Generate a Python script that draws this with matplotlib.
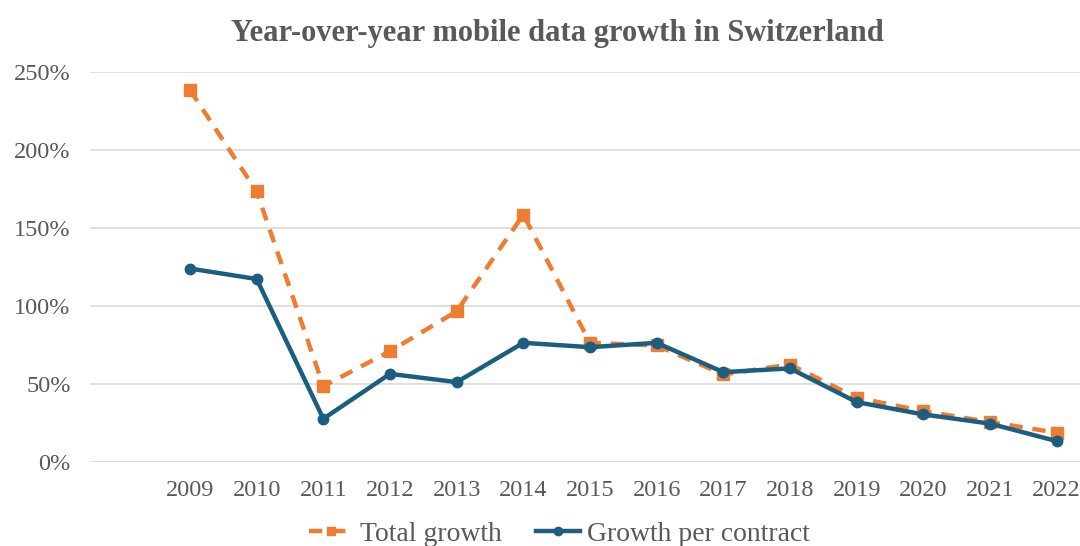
import matplotlib
matplotlib.use("Agg")
from matplotlib import pyplot as plt
from matplotlib.ticker import FuncFormatter

# yearly growth in percent; first slot of the category axis is left empty
years = ['', '2009', '2010', '2011', '2012', '2013', '2014', '2015',
         '2016', '2017', '2018', '2019', '2020', '2021', '2022']
total_growth = [238.5, 173.4, 48.6, 71.0, 96.6, 158.5, 76.4,
                74.7, 56.1, 62.5, 41.2, 32.6, 25.6, 18.8]
per_contract = [124.0, 117.3, 27.7, 56.5, 51.2, 76.4, 73.6,
                76.4, 57.6, 60.0, 38.4, 30.5, 24.6, 13.4]

orange = '#ED7D31'
blue = '#1B5E80'
grey = '#595959'

plt.rcParams['font.family'] = ['Liberation Serif', 'DejaVu Serif']

fig = plt.figure(figsize=(10.8, 5.46), dpi=100)
ax = fig.add_axes([90 / 1080, 84 / 546, 990 / 1080, 390 / 546])

xs = list(range(1, len(years)))
ax.plot(xs, total_growth, color=orange, linewidth=3.2, linestyle=(0, (3, 2.2)),
        marker='s', markersize=8, label='Total growth', zorder=3)
ax.plot(xs, per_contract, color=blue, linewidth=3.2,
        marker='o', markersize=7.5, label='Growth per contract', zorder=4)

ax.set_xlim(-0.5, 14.35)
ax.set_ylim(0, 250)
ax.set_yticks(range(0, 251, 50))
ax.yaxis.set_major_formatter(FuncFormatter(lambda v, p: '%d%%' % v))
ax.set_xticks(range(len(years)))
ax.set_xticklabels(years)

ax.grid(axis='y', color='#D9D9D9', linewidth=1.2)
ax.set_axisbelow(True)
for side in ['top', 'right', 'left', 'bottom']:
    ax.spines[side].set_visible(False)
ax.tick_params(axis='both', length=0, labelsize=17.5, labelcolor=grey)
ax.tick_params(axis='x', pad=13)
ax.tick_params(axis='y', pad=14)

fig.text(0.516, 0.938, 'Year-over-year mobile data growth in Switzerland',
         ha='center', va='center', fontsize=22, fontweight='bold', color=grey)

leg = fig.legend(loc='center', bbox_to_anchor=(0.518, 0.022), ncol=2,
                 frameon=False, fontsize=20, handlelength=1.6,
                 columnspacing=1.2, handletextpad=0.25, markerscale=0.8)
for t in leg.get_texts():
    t.set_color(grey)

fig.savefig('out.png', dpi=100)
